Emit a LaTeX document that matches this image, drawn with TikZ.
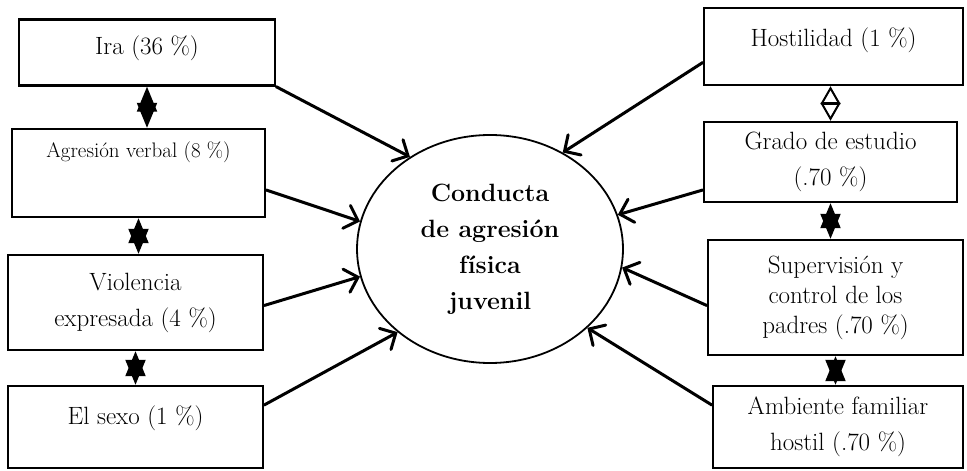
\documentclass[tikz,border=0pt]{standalone}
\usetikzlibrary{shapes, positioning, arrows.meta}
\begin{document}
\begin{tikzpicture}[x=1pt, y=1pt,
  caja/.style={draw, line width=2.4pt, inner sep=0pt, align=center, font=\fontsize{25}{36}\selectfont},
  flecha/.style={line width=3pt, line cap=round, -{Straight Barb[length=12pt,width=24pt,line cap=round]}},
  doble/.style={line width=2pt, {Triangle[length=25pt,width=20pt]}-{Triangle[length=25pt,width=20pt]}},
  doblea/.style={line width=2pt, {Triangle[open,length=18pt,width=20pt]}-{Triangle[open,length=18pt,width=20pt]}}]

\useasboundingbox (0,0) rectangle (967,471);

% Central ellipse
\node[ellipse, draw, line width=1.8pt, minimum width=266pt, minimum height=228pt, align=center,
  font=\bfseries\fontsize{25}{36}\selectfont] (centro) at (490,222) {Conducta\\de agresión\\física\\juvenil};

% Left column
\node[caja, minimum width=256pt, text height=35pt, text depth=31pt] (ira) at (147,418.5) {Ira (36 \%)};
\node[caja, minimum width=253pt, text height=29pt, text depth=59pt, font=\fontsize{21}{26}\selectfont] (agr) at (138.5,298) {Agresión verbal (8 \%)};
\node[caja, minimum width=255pt, minimum height=95pt] (viol) at (135.5,168.5) {Violencia\\expresada (4 \%)};
\node[caja, minimum width=255pt, text height=39pt, text depth=43pt] (sexo) at (135.5,44) {El sexo (1 \%)};

% Right column
\node[caja, minimum width=259pt, text height=39pt, text depth=38pt] (host) at (833.5,424.5) {Hostilidad (1 \%)};
\node[caja, minimum width=253pt, minimum height=80pt] (grado) at (830.5,309) {Grado de estudio\\(.70 \%)};
\node[caja, minimum width=255pt, minimum height=115pt, font=\fontsize{25}{30}\selectfont] (super) at (835.5,173.5) {Supervisión y\\control de los\\padres (.70 \%)};
\node[caja, minimum width=250pt, minimum height=82pt] (amb) at (838,44) {Ambiente familiar\\hostil (.70 \%)};

% Arrows to the ellipse
\draw[flecha] (ira.south east) -- (centro.131);
\draw[flecha] ([yshift=-17pt]agr.east) -- (centro.168);
\draw[flecha] ([yshift=-3pt]viol.east) -- (centro.192);
\draw[flecha] ([yshift=22pt]sexo.east) -- (centro.222);
\draw[flecha] ([yshift=-16pt]host.west) -- (centro.53);
\draw[flecha] ([yshift=-28pt]grado.west) -- (centro.15);
\draw[flecha] ([yshift=-8pt]super.west) -- (centro.352);
\draw[flecha] ([yshift=22pt]amb.west) -- (centro.321);

% Links between boxes
\draw[doble] (ira.south) -- (ira.south |- agr.north);
\draw[doble] (agr.south) -- (agr.south |- viol.north);
\draw[doble] (viol.south) -- (sexo.north);
\draw[doblea] (grado.north |- host.south) -- (grado.north);
\draw[doble] (grado.south) -- (grado.south |- super.north);
\draw[doble] (super.south) -- (super.south |- amb.north);

\end{tikzpicture}
\end{document}
